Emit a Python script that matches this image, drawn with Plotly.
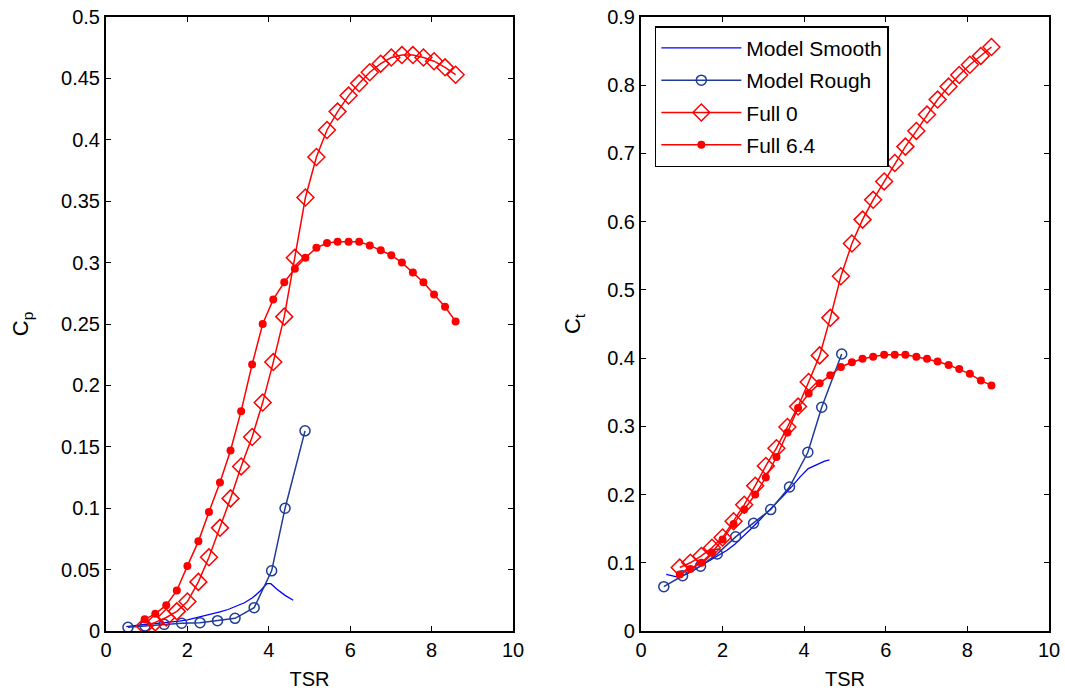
import plotly.graph_objects as go

# ---------------- data ----------------
# Full-scale TSR grid (shared by Full 0 and Full 6.4)
tsr_full = [0.95, 1.21, 1.48, 1.74, 2.00, 2.27, 2.53, 2.80, 3.06, 3.32,
            3.59, 3.85, 4.11, 4.38, 4.64, 4.90, 5.17, 5.43, 5.69, 5.96,
            6.22, 6.48, 6.75, 7.01, 7.27, 7.54, 7.80, 8.06, 8.33, 8.59]

cp_full0 = [0.004, 0.007, 0.011, 0.016, 0.024, 0.040, 0.060, 0.084, 0.108, 0.134,
            0.158, 0.186, 0.219, 0.256, 0.304, 0.353, 0.386, 0.408, 0.423, 0.436,
            0.446, 0.455, 0.462, 0.467, 0.469, 0.469, 0.467, 0.464, 0.459, 0.453]

cp_full64 = [0.0095, 0.014, 0.021, 0.033, 0.053, 0.073, 0.097, 0.121, 0.147, 0.179,
             0.217, 0.250, 0.270, 0.284, 0.295, 0.304, 0.312, 0.316, 0.317, 0.317,
             0.317, 0.314, 0.310, 0.306, 0.300, 0.292, 0.284, 0.274, 0.264, 0.252]

ct_full0 = [0.093, 0.100, 0.110, 0.122, 0.137, 0.161, 0.185, 0.213, 0.242, 0.268,
            0.299, 0.329, 0.365, 0.404, 0.459, 0.520, 0.568, 0.603, 0.632, 0.659,
            0.686, 0.710, 0.733, 0.757, 0.779, 0.798, 0.815, 0.830, 0.843, 0.856]

ct_full64 = [0.083, 0.091, 0.100, 0.115, 0.134, 0.157, 0.178, 0.200, 0.225, 0.255,
             0.291, 0.327, 0.348, 0.363, 0.375, 0.387, 0.394, 0.399, 0.402, 0.405,
             0.405, 0.405, 0.402, 0.399, 0.395, 0.390, 0.384, 0.377, 0.367, 0.360]

# Model, rough surface (circles)
tsr_rough = [0.54, 0.96, 1.43, 1.86, 2.31, 2.74, 3.17, 3.64, 4.07, 4.40, 4.89]
cp_rough = [0.003, 0.004, 0.0054, 0.0063, 0.0068, 0.0084, 0.0103, 0.019, 0.049, 0.100, 0.163]
tsr_rough_ct = [0.56, 1.02, 1.46, 1.87, 2.32, 2.76, 3.18, 3.64, 4.09, 4.43, 4.92]
ct_rough = [0.065, 0.081, 0.095, 0.113, 0.138, 0.158, 0.178, 0.211, 0.262, 0.328, 0.406]

# Model, smooth surface (line only)
tsr_smooth_cp = [0.50, 0.80, 1.00, 1.20, 1.40, 1.60, 1.80, 2.00, 2.20, 2.40, 2.60,
                 2.80, 3.00, 3.20, 3.40, 3.60, 3.80, 3.95, 4.05, 4.20, 4.40, 4.60]
cp_smooth = [0.0035, 0.005, 0.0055, 0.006, 0.0065, 0.007, 0.008, 0.009, 0.0105, 0.012, 0.0135,
             0.0155, 0.0175, 0.020, 0.023, 0.027, 0.033, 0.0385, 0.0385, 0.034, 0.029, 0.025]
tsr_smooth_ct = [0.62, 0.75, 0.90, 1.10, 1.30, 1.50, 1.70, 1.90, 2.10, 2.30, 2.50,
                 2.70, 2.90, 3.10, 3.30, 3.50, 3.70, 3.90, 4.10, 4.30, 4.50, 4.62]
ct_smooth = [0.083, 0.081, 0.079, 0.083, 0.089, 0.097, 0.104, 0.111, 0.118, 0.127, 0.138,
             0.150, 0.162, 0.174, 0.186, 0.199, 0.212, 0.226, 0.238, 0.244, 0.249, 0.251]

x_ticks = [0, 2, 4, 6, 8, 10]

# ---------------- styles ----------------
RED = "#FF0000"
BLUE = "#0000FF"
NAVY = "#1F3C96"
FONT = "Arial, Liberation Sans, sans-serif"

fig = go.Figure()


def add_panel(xa, ya, xs, ys, xr, yr, xf, yf0, yf64, show):
    fig.add_trace(go.Scatter(x=xs, y=ys, mode="lines", name="Model Smooth",
                             legendgroup="g1",
                             line=dict(color=BLUE, width=1.3),
                             xaxis=xa, yaxis=ya, showlegend=show))
    fig.add_trace(go.Scatter(x=xr, y=yr, mode="lines+markers", name="Model Rough",
                             legendgroup="g2",
                             line=dict(color=NAVY, width=1.5),
                             marker=dict(symbol="circle-open", size=10, color=NAVY,
                                         line=dict(width=1.5, color=NAVY)),
                             xaxis=xa, yaxis=ya, showlegend=show))
    fig.add_trace(go.Scatter(x=xf, y=yf0, mode="lines+markers", name="Full 0",
                             legendgroup="g3",
                             line=dict(color=RED, width=1.5),
                             marker=dict(symbol="diamond-open", size=13, color=RED,
                                         line=dict(width=1.5, color=RED)),
                             xaxis=xa, yaxis=ya, showlegend=show))
    fig.add_trace(go.Scatter(x=xf, y=yf64, mode="lines+markers", name="Full 6.4",
                             legendgroup="g4",
                             line=dict(color=RED, width=1.5),
                             marker=dict(symbol="circle", size=8, color=RED),
                             xaxis=xa, yaxis=ya, showlegend=show))


add_panel("x", "y", tsr_smooth_cp, cp_smooth, tsr_rough, cp_rough,
          tsr_full, cp_full0, cp_full64, False)
add_panel("x2", "y2", tsr_smooth_ct, ct_smooth, tsr_rough_ct, ct_rough,
          tsr_full, ct_full0, ct_full64, True)

axis_common = dict(showline=True, linecolor="black", linewidth=2, mirror="ticks",
                   ticks="inside", ticklen=5, tickwidth=1, tickcolor="black",
                   showgrid=False, zeroline=False, automargin=False,
                   tickfont=dict(family=FONT, size=20, color="black"))

title_font = dict(family=FONT, size=20, color="black")
ytitle_font = dict(family=FONT, size=22, color="black")

fig.update_layout(
    width=1065, height=694,
    margin=dict(l=106, r=16, t=17, b=63),
    paper_bgcolor="white", plot_bgcolor="white",
    font=dict(family=FONT, size=19, color="black"),
    xaxis=dict(domain=[0, 0.4316], range=[0, 10], tickvals=x_ticks,
               title=dict(text="TSR", standoff=12, font=title_font), **axis_common),
    yaxis=dict(domain=[0, 1], range=[0, 0.5], dtick=0.05,
               title=dict(text="C<sub>p</sub>", standoff=26, font=ytitle_font), **axis_common),
    xaxis2=dict(domain=[0.5673, 1], range=[0, 10], tickvals=x_ticks, anchor="y2",
                title=dict(text="TSR", standoff=12, font=title_font), **axis_common),
    yaxis2=dict(domain=[0, 1], range=[0, 0.9], dtick=0.1, anchor="x2",
                title=dict(text="C<sub>t</sub>", standoff=20, font=ytitle_font), **axis_common),
    legend=dict(x=0.582, y=0.985, xanchor="left", yanchor="top",
                bgcolor="white", bordercolor="black", borderwidth=1.5,
                font=dict(family=FONT, size=21, color="black"),
                tracegroupgap=2, itemwidth=80),
)

fig.write_html("out.html", config={"displayModeBar": False},
               post_script="document.body.style.margin='0';")
